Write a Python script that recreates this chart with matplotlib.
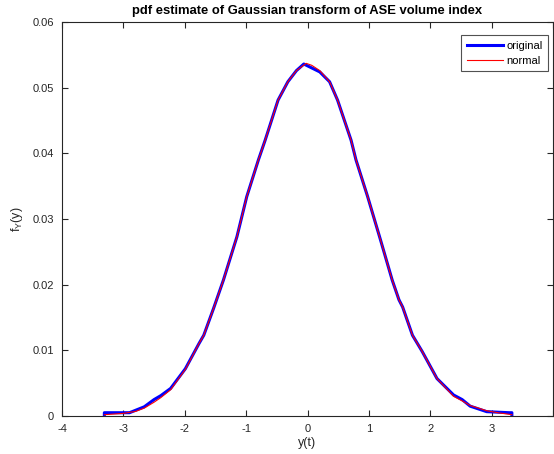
import matplotlib
matplotlib.use("Agg")
import matplotlib.pyplot as plt
import numpy as np

# Density estimate of the transformed series ("original")
x_orig = [-3.31, -3.31, -2.90, -2.66, -2.50, -2.39, -2.23, -1.99, -1.77, -1.69,
          -1.53, -1.37, -1.15, -0.99, -0.80, -0.69, -0.48, -0.32, -0.18, -0.06,
          0.20, 0.36, 0.49, 0.71, 0.79, 0.98, 1.19, 1.38, 1.49, 1.55,
          1.71, 1.87, 2.11, 2.38, 2.52, 2.65, 2.92, 3.29, 3.33, 3.33]
f_orig = [0.0, 0.0005, 0.0005, 0.0014, 0.0025, 0.0031, 0.0042, 0.0072, 0.0110, 0.0123,
          0.0164, 0.0207, 0.0273, 0.0334, 0.0390, 0.0420, 0.0481, 0.0509, 0.0526, 0.0536,
          0.0524, 0.0509, 0.0481, 0.0420, 0.0390, 0.0334, 0.0268, 0.0207, 0.0177, 0.0166,
          0.0123, 0.0098, 0.0057, 0.0032, 0.0025, 0.0015, 0.00066, 0.0005, 0.0005, 0.0]

# Reference normal density on the same support ("normal")
x_norm = [-3.31, -3.00, -2.80, -2.66, -2.50, -2.39, -2.23, -1.99, -1.77, -1.69,
          -1.53, -1.37, -1.15, -0.99, -0.80, -0.69, -0.48, -0.32, -0.18, -0.02,
          0.07, 0.20, 0.36, 0.49, 0.71, 0.79, 0.98, 1.19, 1.38, 1.49,
          1.55, 1.71, 1.87, 2.11, 2.38, 2.52, 2.65, 2.92, 3.10, 3.33]
f_norm = [0.0002, 0.0004, 0.0007, 0.0012, 0.0021, 0.0028, 0.0040, 0.0071, 0.0110, 0.0123,
          0.0164, 0.0207, 0.0273, 0.0334, 0.0390, 0.0420, 0.0481, 0.0509, 0.0526, 0.0537,
          0.0534, 0.0526, 0.0509, 0.0481, 0.0420, 0.0390, 0.0334, 0.0268, 0.0207, 0.0177,
          0.0166, 0.0123, 0.0098, 0.0057, 0.0030, 0.0023, 0.0016, 0.0008, 0.0005, 0.0002]

x_ticks = [-4, -3, -2, -1, 0, 1, 2, 3, 4]
y_ticks = [0, 0.01, 0.02, 0.03, 0.04, 0.05, 0.06]
y_ticklabels = ["0", "0.01", "0.02", "0.03", "0.04", "0.05", "0.06"]

plt.rcParams["font.family"] = ["Liberation Sans", "DejaVu Sans"]
plt.rcParams["mathtext.default"] = "regular"

fig = plt.figure(figsize=(5.54, 4.54), dpi=100)
ax = fig.add_axes([62 / 554, 38 / 454, 491 / 554, 394 / 454])

ax.plot(x_orig, f_orig, color="#0000ff", lw=2.2, label="original", solid_joinstyle="round")
ax.plot(x_norm, f_norm, color="#ff0000", lw=0.8, label="normal")

ax.set_xlim(-4, 4)
ax.set_ylim(0, 0.06)
ax.set_xticks(x_ticks)
ax.set_xticklabels(["-4", "-3", "-2", "-1", "0", "1", "2", "3", ""])
ax.set_yticks(y_ticks)
ax.set_yticklabels(y_ticklabels)

dark = "#262626"
for s in ax.spines.values():
    s.set_color(dark)
    s.set_linewidth(0.8)
ax.tick_params(direction="in", length=4, width=0.8, top=True, right=True,
               labelsize=8, colors=dark, labelcolor=dark, pad=6)

ax.set_title("pdf estimate of Gaussian transform of ASE volume index",
             fontsize=9.4, fontweight="bold", color="black", pad=6)
ax.set_xlabel("y(t)", fontsize=9, color=dark, labelpad=2)
ax.set_ylabel(r"f$_{Y}$(y)", fontsize=9, color=dark, labelpad=5)

leg = ax.legend(loc="upper right", bbox_to_anchor=(0.9898, 0.967), borderaxespad=0,
                fontsize=8, frameon=True, fancybox=False, edgecolor=dark,
                handlelength=3.3, handletextpad=0.25, borderpad=0.5, labelspacing=0.45)
leg.get_frame().set_linewidth(0.8)

fig.savefig("out.png", dpi=100)
